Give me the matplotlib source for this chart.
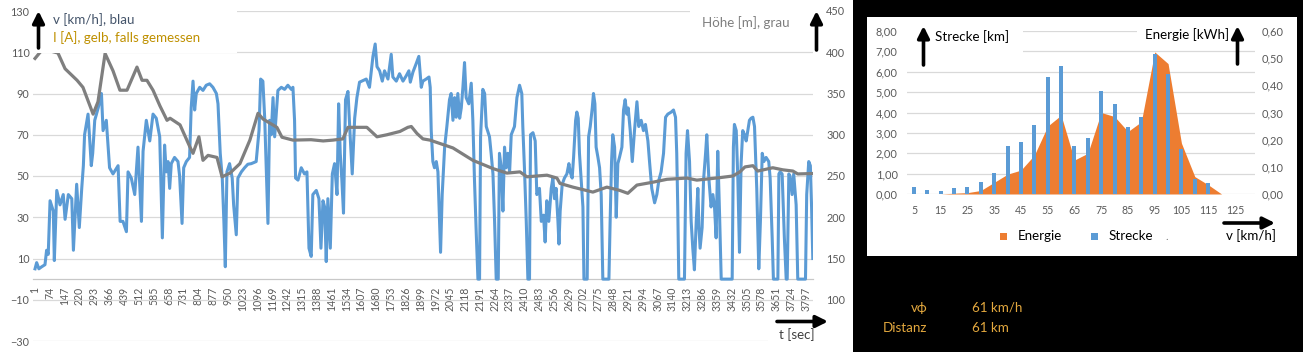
import matplotlib
matplotlib.use("Agg")
import matplotlib.pyplot as plt
from matplotlib.patches import Rectangle, FancyArrowPatch

plt.rcParams['font.family'] = ['Lato', 'DejaVu Sans']

# ---------------- data: left chart ----------------
t_speed = [1, 9, 20, 34, 50, 58, 66, 75, 91, 96, 108, 124, 140, 149, 165, 182, 190, 206, 219, 231, 239,
           245, 262, 270, 278, 285, 295, 312, 328, 336, 352, 368, 385, 410, 420, 434, 451, 459, 475, 492,
           508, 525, 533, 549, 566, 582, 598, 615, 628,
           639, 647, 656, 664, 672, 688, 705, 713, 725, 733, 746, 762, 770, 779, 787, 795, 812, 828, 844,
           861, 877, 894, 902, 913, 923, 931, 938, 946, 959, 972, 979, 992, 1000, 1017, 1033, 1049, 1066,
           1090, 1104, 1112, 1123, 1132, 1140, 1148, 1156, 1164, 1173, 1181, 1197, 1214, 1230, 1246, 1263,
           1271, 1279, 1284, 1296, 1312, 1328, 1340, 1350, 1361, 1369, 1386, 1399, 1409, 1419, 1427, 1435,
           1443, 1455, 1465, 1476, 1488, 1496, 1504, 1512, 1520, 1530, 1542, 1553, 1563, 1575, 1586, 1599,
           1616, 1632, 1648, 1665, 1676, 1685, 1698, 1711, 1722, 1739, 1755, 1763, 1780, 1796, 1813, 1829,
           1842, 1849, 1862, 1878, 1891, 1903,
           1911, 1927, 1941, 1947, 1952, 1960, 1968, 1977, 1985, 1993, 1998, 2006, 2018, 2029, 2042, 2050,
           2059, 2067, 2075, 2083, 2092, 2100, 2108, 2116, 2124, 2137, 2149, 2157, 2165, 2174, 2182, 2190,
           2195, 2206, 2215, 2223, 2239, 2247, 2256, 2264, 2272, 2282, 2288, 2297, 2305, 2313, 2321, 2329,
           2338, 2346, 2362, 2374, 2387, 2398, 2403, 2411, 2420, 2428, 2436, 2441, 2453, 2464, 2472, 2485,
           2494, 2505, 2513, 2521, 2531, 2543,
           2551, 2559, 2567, 2576, 2581, 2587, 2597, 2608, 2620, 2630, 2636, 2646, 2653, 2663, 2669, 2676,
           2682, 2690, 2699, 2704, 2720, 2727, 2735, 2745, 2751, 2758, 2764, 2773, 2781, 2789, 2797, 2827,
           2833, 2840, 2846, 2855, 2863, 2871, 2879, 2891, 2899, 2907, 2915, 2922, 2932, 2942, 2953, 2965,
           2974, 2986, 2997, 3007, 3019, 3027, 3038, 3052, 3063, 3073, 3084, 3096, 3106, 3117, 3134, 3145,
           3155, 3161, 3166, 3171,
           3199, 3207, 3214, 3224, 3232, 3240, 3248, 3257, 3265, 3270, 3276, 3286, 3293, 3303, 3309, 3319,
           3330, 3339, 3347, 3355, 3363, 3372, 3380, 3434, 3440, 3445, 3454, 3462, 3470, 3478, 3486, 3495,
           3503, 3511, 3519, 3527, 3536, 3544, 3555, 3565, 3573, 3582, 3590, 3601, 3614, 3621, 3631, 3637,
           3659, 3664, 3670, 3680, 3691, 3700, 3705, 3713, 3719, 3729, 3737, 3749, 3757, 3795, 3801, 3811,
           3819, 3825, 3831]
v_speed = [5, 8, 5, 6, 7, 14, 12, 38, 33, 9, 43, 36, 41, 29, 41, 39, 14, 46, 25, 44, 55,
           70, 80, 68, 55, 61, 77, 83, 90, 72, 77, 54, 51, 55, 28, 28, 23, 52, 49, 41,
           64, 28, 62, 77, 67, 80, 78, 69, 20,
           65, 52, 57, 44, 56, 59, 57, 50, 27, 54, 57, 59, 83, 96, 82, 90, 93, 91.5, 94,
           94.7, 93, 90, 85, 61, 49, 28, 6, 52, 56, 49, 36, 21.5, 49, 52, 54, 55.7, 56,
           57, 72, 97, 96, 78, 52, 27, 77, 70, 88, 69, 91.5, 93, 92, 94, 92,
           93, 77, 49, 48, 54, 51, 52, 15, 11, 41, 43, 39, 15, 38, 35, 8.5,
           39, 15, 51, 56, 41, 85, 61, 48, 32, 87, 91, 69, 51, 78, 88, 95.5,
           96.3, 97, 93, 108, 114, 103, 101, 96, 101, 97, 109, 98, 96, 99.6, 96, 98.6,
           101, 95.5, 100.4, 104.5, 108, 93,
           96, 97, 98, 93, 72, 57, 54, 57, 52, 28, 13, 41, 64, 74, 87, 90,
           77, 88, 78.5, 90, 78, 83, 93, 105, 88, 85, 95, 77, 48, 21.5, 0, 0,
           69, 92, 90, 74, 69, 61, 51, 28, 0, 0, 61, 54, 33, 64, 54, 61,
           52, 70, 74, 88, 94, 90, 74, 54, 28, 0, 0, 70, 71, 67, 41, 44,
           28, 31, 18, 38, 28, 44,
           49, 39, 44, 28, 17, 33, 46, 49, 51, 56, 52, 49, 59, 77, 81, 78,
           61, 49, 35, 0, 0, 69, 74, 83, 90, 85, 64, 59, 54, 41, 0, 0,
           28, 57, 70, 64, 30, 56, 59, 64, 82, 87, 80, 83, 72, 57, 72, 86,
           74, 77, 72, 75, 67, 57, 44, 37, 41, 48, 52, 61, 78.5, 80, 81, 82,
           78.5, 61, 35, 0,
           0, 61, 72, 57, 28, 15, 4.5, 28, 44, 26, 15, 25, 48, 61, 70, 49,
           35, 41, 35, 20, 62, 31, 0, 0, 64, 75, 72, 48, 13, 56, 72, 70,
           67, 72, 77, 78, 78.5, 74, 44, 5, 28, 61, 57, 59, 57, 49, 20, 0,
           0, 51, 52, 51, 20, 0, 0, 51, 50, 41, 51, 36, 0, 0, 41, 57,
           55, 35, 10]

t_height = [1, 26, 40, 114, 149, 208, 237, 287, 311, 346, 385, 419, 454, 503, 528, 552, 582, 616, 651,
            666, 715, 764, 779, 808, 828, 853, 897, 922, 961, 1010, 1059, 1099, 1124, 1192, 1217, 1271,
            1360, 1420, 1468, 1517, 1542, 1635, 1685, 1734, 1798, 1837, 1854, 1882, 1911, 1946, 2059,
            2157, 2256, 2325, 2389, 2423, 2522, 2571, 2586, 2650, 2748, 2817, 2881, 2920, 2965, 3044,
            3113, 3211, 3260, 3373, 3437, 3472, 3497, 3536, 3560, 3634, 3683, 3733, 3757, 3831]
h_height = [392.5, 400, 404, 399, 380, 366, 357.5, 325, 340, 398.5, 377.5, 354, 354, 382, 366, 366, 354,
            335, 317.5, 320, 312, 285, 277.5, 297.5, 269, 275, 272.5, 249, 253.5, 265, 293.5, 326, 319,
            309, 297, 293.5, 294, 292.5, 293.5, 295, 309, 309, 297.5, 300, 304, 309, 310, 301.5, 295,
            293.5, 284, 269, 259, 253.5, 255, 249, 251, 247.5, 241, 236.5, 230.5, 236.5, 232.5, 229, 239,
            242.5, 246, 247.5, 245, 248, 250, 255, 261, 262.5, 256, 260, 257.5, 256, 252.5, 253]

x_tick_labels = [str(v) for v in range(1, 3798, 73)]
left_ticks = [-30, -10, 10, 30, 50, 70, 90, 110, 130]
right_ticks = [100, 150, 200, 250, 300, 350, 400, 450]

# ---------------- data: right chart ----------------
speed_classes = [5, 10, 15, 20, 25, 30, 35, 40, 45, 50, 55, 60, 65, 70, 75, 80, 85, 90, 95, 100, 105,
                 110, 115, 120, 125, 130]
strecke_km = [0.33, 0.2, 0.13, 0.3, 0.35, 0.58, 1.03, 2.37, 2.55, 3.38, 5.74, 6.27, 2.37, 2.76, 5.05,
              4.41, 3.28, 3.77, 6.88, 5.9, 2.2, 0.75, 0.52, 0, 0, 0]
energie_kwh = [0, 0, 0, 0.003, 0.005, 0.013, 0.043, 0.073, 0.088, 0.143, 0.25, 0.29, 0.125, 0.15, 0.30,
               0.285, 0.23, 0.266, 0.523, 0.48, 0.187, 0.064, 0.034, 0, 0, 0]
strecke_ticks = [0, 1, 2, 3, 4, 5, 6, 7, 8]
energie_ticks = [0, 0.1, 0.2, 0.3, 0.4, 0.5, 0.6]

v_avg_text = "61 km/h"
dist_text = "61 km"

# ---------------- figure ----------------
W, H = 1303, 352
fig = plt.figure(figsize=(W / 100, H / 100), dpi=100)
fig.patch.set_facecolor('white')


def fx(x):
    return x / W


def fy(y):
    return 1 - y / H


def rect_px(x0, y0, x1, y1, color, z):
    r = Rectangle((fx(x0), fy(y1)), fx(x1) - fx(x0), fy(y0) - fy(y1), transform=fig.transFigure,
                  facecolor=color, edgecolor='none', zorder=z)
    fig.add_artist(r)


def arrow_px(x0, y0, x1, y1):
    a = FancyArrowPatch((fx(x0), fy(y0)), (fx(x1), fy(y1)), transform=fig.transFigure,
                        arrowstyle='-|>,head_length=0.7,head_width=0.35', mutation_scale=10,
                        lw=2.6, color='black', zorder=6, shrinkA=0, shrinkB=0)
    fig.add_artist(a)


TICK = '#595959'
GRID = '#d9d9d9'

# black background on the right part
rect_px(853, 0, W, H, 'black', -10)
rect_px(867, 17, 1297, 256, 'white', -9)

# ---------------- left chart ----------------
ax1 = fig.add_axes([fx(33), fy(341), fx(813) - fx(33), fy(11) - fy(341)])
ax1.set_facecolor('none')
ax1.plot(t_speed, v_speed, color='#5b9bd5', lw=2.2, solid_joinstyle='round', zorder=3)
ax1.set_xlim(-9, 3832)
ax1.set_ylim(-30, 130)
ax1.set_yticks(left_ticks)
ax1.set_xticks(list(range(1, 3798, 73)))
ax1.set_xticklabels(x_tick_labels)
ax1.tick_params(axis='x', length=0, pad=5.5, labelrotation=90, labelsize=7.6, labelcolor=TICK)
ax1.tick_params(axis='y', length=0, pad=2.5, labelsize=7.8, labelcolor=TICK)
ax1.grid(axis='y', color=GRID, lw=0.9)
ax1.set_axisbelow(True)
for s in ['top', 'left', 'right']:
    ax1.spines[s].set_visible(False)
ax1.spines['bottom'].set_position(('data', 0))
ax1.spines['bottom'].set_color('#c8c8c8')
ax1.spines['bottom'].set_linewidth(0.9)

ax2 = ax1.twinx()
ax2.plot(t_height, h_height, color='#7f7f7f', lw=2.3, solid_joinstyle='round')
ax2.set_ylim(50, 450)
ax2.set_yticks(right_ticks)
ax2.tick_params(axis='y', length=0, pad=9.5, labelsize=7.8, labelcolor=TICK)
for s in ax2.spines.values():
    s.set_visible(False)

# label boxes
rect_px(33, 0, 237, 53, 'white', 1)
rect_px(690, 0, 813, 45, 'white', 1)
rect_px(768, 315, 813, 352, 'white', 1)
fig.text(fx(53), fy(20), 'v [km/h], blau', color='#44546a', fontsize=9.6, va='center', ha='left', zorder=5)
fig.text(fx(53), fy(38), 'I [A], gelb, falls gemessen', color='#bf9000', fontsize=9.6, va='center',
         ha='left', zorder=5)
fig.text(fx(746), fy(23), 'Höhe [m], grau', color='#7f7f7f', fontsize=9.6, va='center', ha='center', zorder=5)
fig.text(fx(797), fy(335), 't [sec]', color='#404040', fontsize=9.6, va='center', ha='center', zorder=5)
arrow_px(38.5, 48, 38.5, 11)
arrow_px(816.5, 50, 816.5, 11)
arrow_px(777, 321.5, 828, 321.5)

# ---------------- right chart ----------------
rect_box = [fx(907.3), fy(194), fx(1255) - fx(907.3), fy(31) - fy(194)]
axg = fig.add_axes(rect_box, zorder=0)
axg.set_facecolor('none')
axg.set_xlim(-0.5, len(speed_classes) - 0.5)
axg.set_ylim(0, 8)
axg.set_yticks(strecke_ticks)
axg.grid(axis='y', color=GRID, lw=0.9)
axg.tick_params(length=0, labelleft=False, labelbottom=False)
for s in axg.spines.values():
    s.set_visible(False)

axe = fig.add_axes(rect_box, zorder=1)
axe.set_facecolor('none')
idx = list(range(len(speed_classes)))
axe.fill_between(idx, energie_kwh, 0, color='#ed7d31', lw=0)
axe.set_xlim(-0.5, len(speed_classes) - 0.5)
axe.set_ylim(0, 0.6)
axe.set_yticks(energie_ticks)
axe.set_yticklabels([f"{v:.2f}".replace('.', ',') for v in energie_ticks])
axe.yaxis.tick_right()
axe.tick_params(axis='y', length=0, pad=5, labelsize=7.9, labelcolor=TICK)
axe.tick_params(axis='x', length=0, labelbottom=False)
for s in axe.spines.values():
    s.set_visible(False)

axb = fig.add_axes(rect_box, zorder=2)
axb.set_facecolor('none')
axb.bar(idx, strecke_km, width=0.3, color='#5b9bd5')
axb.set_xlim(-0.5, len(speed_classes) - 0.5)
axb.set_ylim(0, 8)
axb.set_yticks(strecke_ticks)
axb.set_yticklabels([f"{v:.2f}".replace('.', ',') for v in strecke_ticks])
axb.set_xticks(idx[::2])
axb.set_xticklabels([str(c) for c in speed_classes[::2]])
axb.tick_params(axis='y', length=0, pad=7, labelsize=7.9, labelcolor=TICK)
axb.tick_params(axis='x', length=0, pad=8, labelsize=7.6, labelcolor=TICK)
for s in axb.spines.values():
    s.set_visible(False)

rect_px(905, 22, 1023, 61, 'white', 1)
rect_px(1137, 20, 1256, 46, 'white', 1)
fig.text(fx(935), fy(36.5), 'Strecke [km]', color='black', fontsize=9.6, va='center', ha='left', zorder=5)
fig.text(fx(1229), fy(34.5), 'Energie [kWh]', color='black', fontsize=9.6, va='center', ha='right', zorder=5)
arrow_px(923.5, 65, 923.5, 26)
arrow_px(1237.5, 64, 1237.5, 26)

# legend
rect_px(999.5, 232.5, 1006.5, 239.5, '#ed7d31', 5)
fig.text(fx(1018), fy(235.5), 'Energie', color='black', fontsize=9.6, va='center', ha='left', zorder=5)
rect_px(1090.5, 232.5, 1097.5, 239.5, '#5b9bd5', 5)
fig.text(fx(1109), fy(235.5), 'Strecke', color='black', fontsize=9.6, va='center', ha='left', zorder=5)
fig.text(fx(1167), fy(236), '.', color='#808080', fontsize=8, va='center', ha='center', zorder=5)
fig.text(fx(1226), fy(236), 'v [km/h]', color='black', fontsize=9.6, va='center', ha='left', zorder=5)
arrow_px(1224, 223, 1275, 223)

# summary text
GOLD = '#e3a83e'
fig.text(fx(927), fy(308), 'vϕ', color=GOLD, fontsize=9.6, va='center', ha='right')
fig.text(fx(927), fy(328), 'Distanz', color=GOLD, fontsize=9.6, va='center', ha='right')
fig.text(fx(972), fy(308), v_avg_text, color=GOLD, fontsize=9.6, va='center', ha='left')
fig.text(fx(972), fy(328), dist_text, color=GOLD, fontsize=9.6, va='center', ha='left')

fig.savefig('out.png', dpi=100, facecolor='white')
